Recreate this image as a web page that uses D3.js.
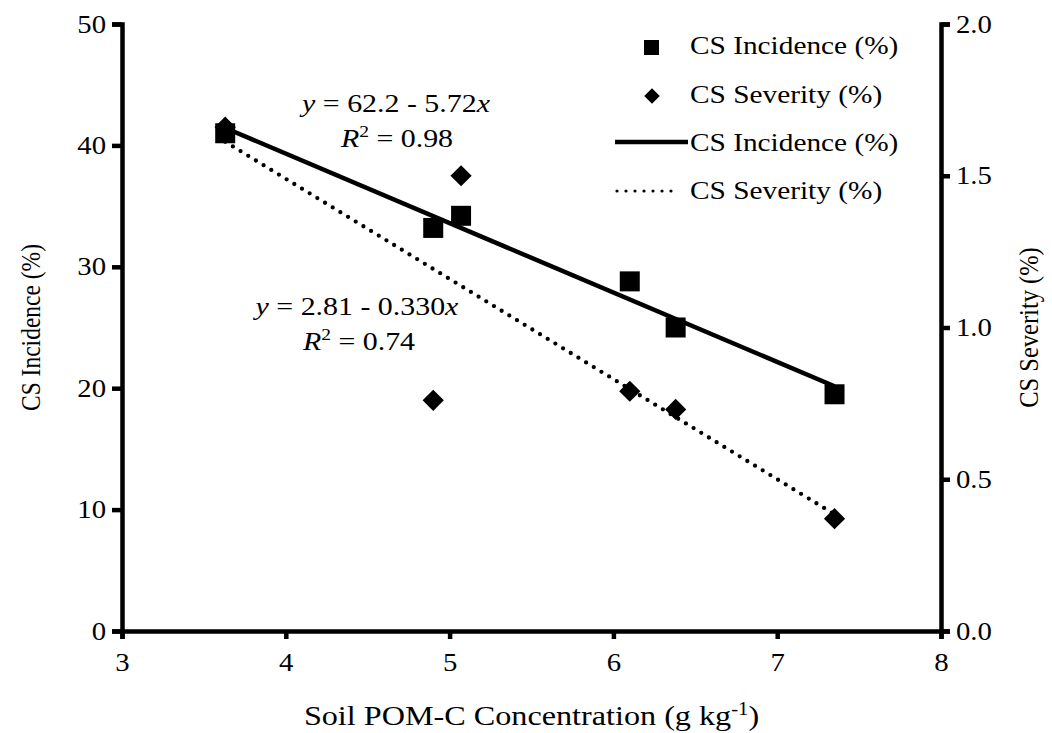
<!DOCTYPE html>
<html><head><meta charset="utf-8">
<script src="https://cdn.jsdelivr.net/npm/d3@7"></script>
<style>body{margin:0;background:#fff}svg{display:block}svg text{font-family:'Liberation Serif','DejaVu Serif',serif;fill:#000}</style>
</head><body><svg id="c" width="1052" height="733"></svg>
<script>
const pomC = [3.63, 4.90, 5.07, 6.10, 6.38, 7.35];
const incidence = [41.0, 33.2, 34.2, 28.8, 25.0, 19.5];
const severityX = [3.63, 4.90, 5.07, 6.10, 6.38, 7.35];
const severity = [1.66, 0.76, 1.50, 0.79, 0.73, 0.37];
const xTicks = [3, 4, 5, 6, 7, 8];
const yLeftTicks = [0, 10, 20, 30, 40, 50];
const yRightTicks = [0, 0.5, 1.0, 1.5, 2.0];
const fitInc = {a: 62.2, b: -5.72, x0: 3.63, x1: 7.35};
const fitSev = {a: 2.81, b: -0.330, x0: 3.63, x1: 7.35};
const legendLabels = ["CS Incidence (%)", "CS Severity (%)", "CS Incidence (%)", "CS Severity (%)"];

const S = 1.15; // horizontal stretch of the original figure's text
const svg = d3.select("#c");
const m = {l: 122, r: 111, t: 24, b: 102};
const W = 1052, H = 733;
const x = d3.scaleLinear().domain([3, 8]).range([m.l, W - m.r]);
const yL = d3.scaleLinear().domain([0, 50]).range([H - m.b, m.t]);
const yR = d3.scaleLinear().domain([0, 2]).range([H - m.b, m.t]);

function txt(px, py, size, anchor) {
  return svg.append("text").attr("transform", `translate(${px},${py}) scale(${S},1)`)
    .attr("text-anchor", anchor || "start").attr("font-size", size);
}
function styleAxis(g) {
  g.attr("font-family", null);
  g.select(".domain").attr("stroke", "#000").attr("stroke-width", 4.5);
  g.selectAll(".tick line").attr("stroke", "#000").attr("stroke-width", 4.5);
  g.selectAll(".tick text").attr("font-size", 25).each(function() {
    const t = d3.select(this);
    const tx = +t.attr("x") || 0, ty = +t.attr("y") || 0;
    t.attr("transform", `translate(${tx},${ty}) scale(${S},1)`).attr("x", 0).attr("y", 0);
  });
}
svg.append("g").attr("transform", `translate(0,${H - m.b})`)
  .call(d3.axisBottom(x).tickValues(xTicks).tickFormat(d3.format("d")).tickSizeOuter(0).tickSize(8).tickPadding(14))
  .call(styleAxis);
svg.append("g").attr("transform", `translate(${m.l},0)`)
  .call(d3.axisLeft(yL).tickValues(yLeftTicks).tickFormat(d3.format("d")).tickSizeOuter(0).tickSize(10).tickPadding(6))
  .call(styleAxis);
svg.append("g").attr("transform", `translate(${W - m.r},0)`)
  .call(d3.axisRight(yR).tickValues(yRightTicks).tickFormat(d3.format(".1f")).tickSizeOuter(0).tickSize(9).tickPadding(6))
  .call(styleAxis);

// axis titles
const xt = txt((m.l + W - m.r) / 2, 725, 28, "middle");
xt.append("tspan").text("Soil POM-C Concentration (g kg");
xt.append("tspan").attr("dy", -10).attr("font-size", 18).text("-1");
xt.append("tspan").attr("dy", 10).text(")");
svg.append("text").attr("transform", `translate(40,${(m.t + H - m.b) / 2}) rotate(-90) scale(1,${S})`)
  .attr("text-anchor", "middle").attr("font-size", 23.5).text("CS Incidence (%)");
svg.append("text").attr("transform", `translate(1038,${(m.t + H - m.b) / 2}) rotate(-90) scale(1,${S})`)
  .attr("text-anchor", "middle").attr("font-size", 24.5).text("CS Severity (%)");

// regression lines
const lineInc = d3.line().x(d => x(d)).y(d => yL(fitInc.a + fitInc.b * d));
svg.append("path").attr("d", lineInc([fitInc.x0, fitInc.x1])).attr("stroke", "#000").attr("stroke-width", 4.5).attr("fill", "none");
const lineSev = d3.line().x(d => x(d)).y(d => yR(fitSev.a + fitSev.b * d));
svg.append("path").attr("d", lineSev([fitSev.x0, fitSev.x1])).attr("stroke", "#000").attr("stroke-width", 4.3)
  .attr("stroke-linecap", "round").attr("stroke-dasharray", "0 9").attr("fill", "none");

// markers
const sq = d3.symbol().type(d3.symbolSquare).size(20 * 20);
const dm = d3.symbol().type(d3.symbolSquare).size(15 * 15);
svg.append("g").selectAll("path").data(pomC.map((d, i) => [d, incidence[i]])).join("path")
  .attr("d", sq).attr("transform", d => `translate(${x(d[0])},${yL(d[1])})`).attr("fill", "#000");
svg.append("g").selectAll("path").data(severityX.map((d, i) => [d, severity[i]])).join("path")
  .attr("d", dm).attr("transform", d => `translate(${x(d[0])},${yR(d[1])}) rotate(45)`).attr("fill", "#000");

// equations
function eq(cx, cy, a, b) {
  const t = txt(cx, cy, 26, "middle");
  t.append("tspan").attr("font-style", "italic").text("y");
  t.append("tspan").text(" = " + a + " - " + b);
  t.append("tspan").attr("font-style", "italic").text("x");
}
function r2(cx, cy, v) {
  const t = txt(cx, cy, 26, "middle");
  t.append("tspan").attr("font-style", "italic").text("R");
  t.append("tspan").attr("dy", -10).attr("font-size", 17).text("2");
  t.append("tspan").attr("dy", 10).text(" = " + v);
}
eq(396, 112, "62.2", "5.72");
r2(397, 147, "0.98");
eq(357, 315, "2.81", "0.330");
r2(359, 350, "0.74");

// legend
const rows = [54, 103, 151, 199];
svg.append("rect").attr("x", 644).attr("y", rows[0] - 14).attr("width", 15).attr("height", 15).attr("fill", "#000");
svg.append("path").attr("d", d3.symbol().type(d3.symbolSquare).size(11 * 11))
  .attr("transform", `translate(652,${rows[1] - 7}) rotate(45)`).attr("fill", "#000");
svg.append("line").attr("x1", 615).attr("x2", 688).attr("y1", rows[2] - 9).attr("y2", rows[2] - 9)
  .attr("stroke", "#000").attr("stroke-width", 4.5);
svg.append("line").attr("x1", 617).attr("x2", 680).attr("y1", rows[3] - 8).attr("y2", rows[3] - 8)
  .attr("stroke", "#000").attr("stroke-width", 3.2).attr("stroke-linecap", "round").attr("stroke-dasharray", "0 9");
legendLabels.forEach((d, i) => txt(690, rows[i], 25.5, "start").text(d));
</script></body></html>
